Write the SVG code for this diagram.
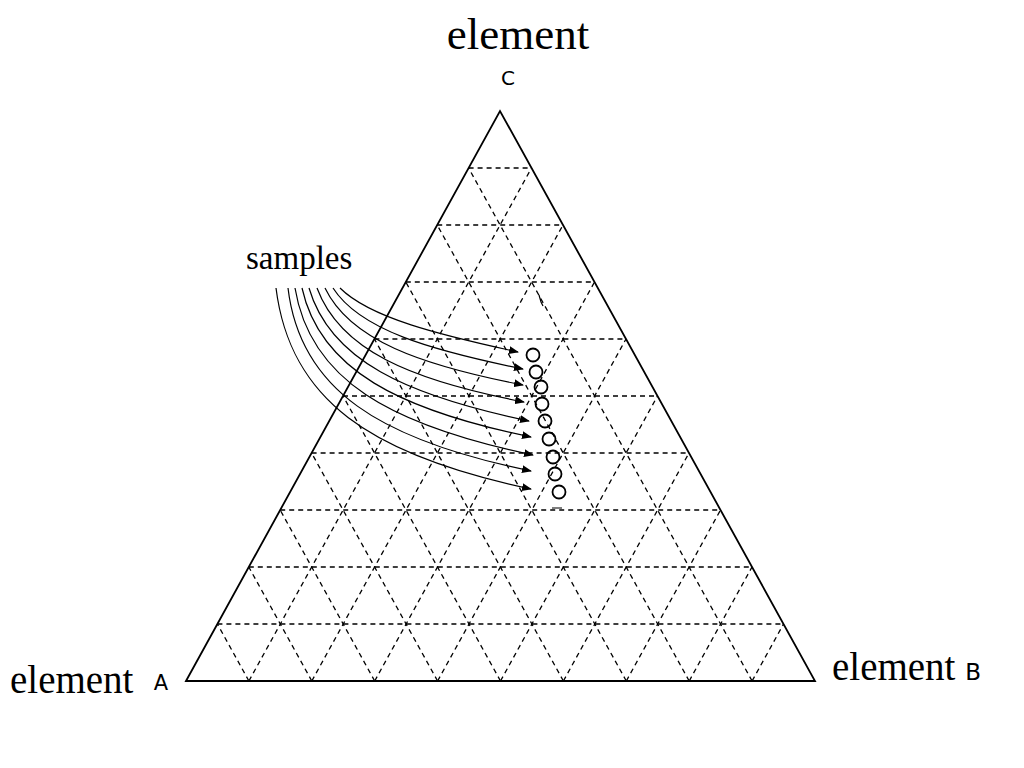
<svg xmlns="http://www.w3.org/2000/svg" width="1024" height="768" viewBox="0 0 1024 768">
<style>
.g{stroke:#000;stroke-width:1.3;stroke-dasharray:5,4;fill:none}
.c{stroke:#000;stroke-width:1.2;fill:none}
.s{font-family:"Liberation Serif",serif;fill:#000}
.a{font-family:"DejaVu Sans",sans-serif;fill:#000}
</style>
<defs><marker id="ah" markerWidth="10" markerHeight="8" refX="9" refY="4" orient="auto" markerUnits="userSpaceOnUse"><path d="M0,0 L10,4 L0,8 z" fill="#000"/></marker></defs>
<rect width="1024" height="768" fill="#fff"/>
<g id="grid">
<path class="g" d="M248.9,681 L531.5,168 M311.8,681 L563,225 M374.7,681 L594.5,282 M437.6,681 L626,339 M500.5,681 L657.5,396 M563.4,681 L689,453 M626.3,681 L720.5,510 M689.2,681 L752,567 M752.1,681 L783.5,624"/>
<path class="g" d="M248.9,681 L217.4,624 M311.8,681 L248.8,567 M374.7,681 L280.2,510 M437.6,681 L311.6,453 M500.5,681 L343,396 M563.4,681 L374.4,339 M626.3,681 L405.8,282 M689.2,681 L437.2,225 M752.1,681 L468.6,168"/>
<path class="g" d="M217.4,624 H783.5 M248.8,567 H752 M280.2,510 H720.5 M311.6,453 H689 M343,396 H657.5 M374.4,339 H626 M405.8,282 H594.5 M437.2,225 H563 M468.6,168 H531.5"/>
</g>
<g id="triangle"><path d="M186,681 L500,111 L815,681 Z" fill="none" stroke="#000" stroke-width="1.8"/></g>
<g id="marks" class="c"><path d="M539,295 L541,302 L543,306 M552,508 L562,508"/></g>
<g id="samples" fill="none" stroke="#000" stroke-width="1.8">
<circle cx="533" cy="355" r="6.5"/><circle cx="536" cy="372" r="6.5"/><circle cx="541" cy="387" r="6.5"/><circle cx="542" cy="404" r="6.5"/><circle cx="545" cy="421" r="6.5"/><circle cx="549" cy="439" r="6.5"/><circle cx="553" cy="457" r="6.5"/><circle cx="555" cy="474" r="6.5"/><circle cx="559" cy="492" r="6.5"/>
</g>
<g id="connectors" class="c">
<path d="M340,288 C370,318 440,335 518,352" marker-end="url(#ah)"/>
<path d="M333,288 C360,330 430,350 523,369" marker-end="url(#ah)"/>
<path d="M325,288 C350,340 420,365 523,385" marker-end="url(#ah)"/>
<path d="M317,288 C340,350 410,380 524,402" marker-end="url(#ah)"/>
<path d="M309,288 C330,360 405,395 529,421" marker-end="url(#ah)"/>
<path d="M302,288 C320,370 400,410 531,437" marker-end="url(#ah)"/>
<path d="M295,288 C310,380 390,425 533,455" marker-end="url(#ah)"/>
<path d="M288,288 C300,390 380,440 531,471" marker-end="url(#ah)"/>
<path d="M276,288 C290,400 370,455 531,489" marker-end="url(#ah)"/>
</g>
<g id="labels">
<text class="s" x="518" y="49" font-size="45" text-anchor="middle">element</text>
<text class="a" x="508" y="85" font-size="20" text-anchor="middle">C</text>
<text class="s" x="246" y="269" font-size="33">samples</text>
<text class="s" x="10" y="693" font-size="39">element</text>
<text class="a" x="161" y="690" font-size="21" text-anchor="middle">A</text>
<text class="s" x="832" y="680" font-size="39">element <tspan class="a" font-size="23">B</tspan></text>
</g>
</svg>
